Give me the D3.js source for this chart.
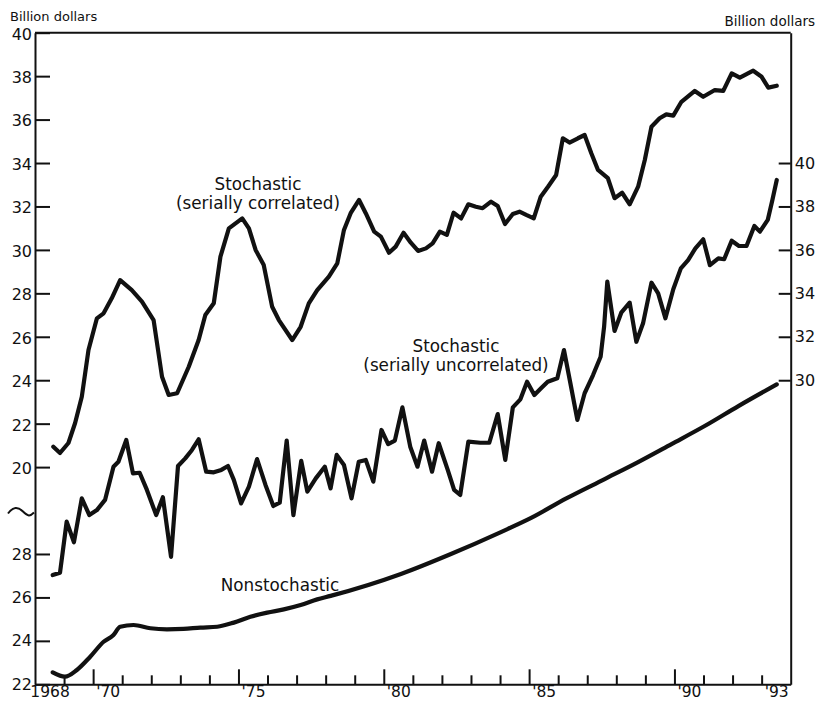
<!DOCTYPE html>
<html>
<head>
<meta charset="utf-8">
<script src="https://cdn.jsdelivr.net/npm/d3@7"></script>
<style>
  body { margin: 0; background: #fff; }
  svg text { font-family: "DejaVu Sans", sans-serif; fill: #111; }
</style>
</head>
<body>
<div id="chart"></div>
<script>
// stochastic, serially correlated (left axis, upper part)
var corrYears = [1968.63, 1968.86, 1969.15, 1969.38, 1969.61, 1969.84, 1970.13, 1970.36, 1970.64, 1970.93,
  1971.33, 1971.68, 1972.08, 1972.37, 1972.60, 1972.89, 1973.29, 1973.63, 1973.86, 1974.15,
  1974.38, 1974.67, 1975.13, 1975.36, 1975.59, 1975.87, 1976.16, 1976.39, 1976.85, 1977.14,
  1977.42, 1977.71, 1978.11, 1978.40, 1978.63, 1978.86, 1979.15, 1979.38, 1979.67, 1979.90,
  1980.18, 1980.41, 1980.68, 1980.93, 1981.18, 1981.45, 1981.68, 1981.93, 1982.17, 1982.40,
  1982.66, 1982.91, 1983.17, 1983.40, 1983.69, 1983.92, 1984.17, 1984.44, 1984.67, 1984.90,
  1985.16, 1985.40, 1985.65, 1985.93, 1986.16, 1986.39, 1986.68, 1986.91, 1987.14, 1987.37,
  1987.71, 1987.94, 1988.20, 1988.46, 1988.75, 1988.98, 1989.21, 1989.49, 1989.72, 1989.96,
  1990.24, 1990.70, 1990.99, 1991.39, 1991.68, 1991.97, 1992.25, 1992.71, 1993.00, 1993.23, 1993.52]
var corrValues = [20.94, 20.65, 21.11, 22.03, 23.24, 25.39, 26.85, 27.08, 27.77, 28.61,
  28.15, 27.62, 26.77, 24.16, 23.32, 23.40, 24.62, 25.85, 27.00, 27.54,
  29.69, 30.99, 31.45, 30.99, 30.00, 29.30, 27.38, 26.77, 25.85, 26.46,
  27.54, 28.15, 28.77, 29.38, 30.92, 31.69, 32.30, 31.69, 30.84, 30.61,
  29.87, 30.15, 30.79, 30.33, 29.95, 30.07, 30.30, 30.84, 30.69, 31.71,
  31.45, 32.10, 31.99, 31.92, 32.22, 32.02, 31.19, 31.65, 31.76, 31.61,
  31.45, 32.45, 32.91, 33.45, 35.14, 34.94, 35.14, 35.29, 34.45, 33.68,
  33.30, 32.38, 32.63, 32.10, 32.91, 34.14, 35.67, 36.06, 36.24, 36.18,
  36.82, 37.32, 37.05, 37.36, 37.32, 38.13, 37.93, 38.25, 37.97, 37.47, 37.56]

// stochastic, serially uncorrelated (right axis)
var uncorrYears = [1968.61, 1968.86, 1969.09, 1969.34, 1969.61, 1969.87, 1970.13, 1970.41, 1970.70, 1970.87,
  1971.14, 1971.37, 1971.60, 1971.85, 1972.17, 1972.40, 1972.68, 1972.92, 1973.17, 1973.40,
  1973.63, 1973.89, 1974.15, 1974.41, 1974.64, 1974.84, 1975.09, 1975.36, 1975.64, 1975.93,
  1976.20, 1976.42, 1976.66, 1976.89, 1977.16, 1977.37, 1977.66, 1977.97, 1978.17, 1978.38,
  1978.63, 1978.89, 1979.14, 1979.38, 1979.64, 1979.92, 1980.15, 1980.38, 1980.64, 1980.91,
  1981.16, 1981.39, 1981.66, 1981.89, 1982.20, 1982.42, 1982.63, 1982.91, 1983.32, 1983.63,
  1983.92, 1984.18, 1984.44, 1984.70, 1984.93, 1985.18, 1985.41, 1985.64, 1985.97, 1986.20,
  1986.42, 1986.66, 1986.91, 1987.20, 1987.46, 1987.58, 1987.69, 1987.94, 1988.17, 1988.46,
  1988.69, 1988.92, 1989.21, 1989.44, 1989.69, 1989.96, 1990.22, 1990.47, 1990.72, 1990.99,
  1991.22, 1991.51, 1991.71, 1991.97, 1992.22, 1992.48, 1992.75, 1992.94, 1993.21, 1993.37, 1993.52]
var uncorrValues = [21.03, 21.14, 23.49, 22.54, 24.56, 23.79, 24.02, 24.49, 26.02, 26.25,
  27.25, 25.71, 25.74, 24.95, 23.79, 24.61, 21.87, 26.05, 26.40, 26.79,
  27.28, 25.79, 25.76, 25.87, 26.05, 25.41, 24.33, 25.10, 26.37, 25.18,
  24.21, 24.36, 27.22, 23.79, 26.29, 24.87, 25.48, 26.02, 25.02, 26.56,
  26.10, 24.56, 26.25, 26.33, 25.33, 27.71, 27.06, 27.22, 28.75, 26.94,
  26.02, 27.22, 25.79, 27.10, 25.87, 24.95, 24.72, 27.17, 27.12, 27.12,
  28.44, 26.33, 28.75, 29.12, 29.93, 29.32, 29.63, 29.93, 30.09, 31.39,
  29.86, 28.17, 29.40, 30.24, 31.08, 32.46, 34.54, 32.27, 33.11, 33.57,
  31.77, 32.62, 34.49, 34.00, 32.85, 34.19, 35.15, 35.53, 36.07, 36.49,
  35.30, 35.61, 35.57, 36.42, 36.18, 36.18, 37.10, 36.84, 37.38, 38.30, 39.22]

// nonstochastic (left axis, lower part)
var nonYears = [1968.61, 1969.03, 1969.44, 1969.90, 1970.36, 1970.70, 1970.93, 1971.39, 1971.97, 1972.54,
  1973.11, 1973.69, 1974.27, 1974.84, 1975.41, 1975.99, 1976.56, 1977.14, 1977.71, 1978.17,
  1980.59, 1982.31, 1984.03, 1985.07, 1986.28, 1987.60, 1988.75, 1989.90, 1991.04, 1992.20, 1993.52]
var nonValues = [22.55, 22.35, 22.66, 23.27, 23.96, 24.27, 24.65, 24.73, 24.58, 24.53,
  24.55, 24.61, 24.65, 24.84, 25.11, 25.30, 25.45, 25.65, 25.91, 26.07,
  27.08, 28.00, 29.01, 29.66, 30.56, 31.45, 32.23, 33.06, 33.89, 34.81, 35.81]

var leftTicksUpper = [20, 22, 24, 26, 28, 30, 32, 34, 36, 38, 40]
var leftTicksLower = [22, 24, 26, 28]
var rightTicks = [30, 32, 34, 36, 38, 40]
var yearTicks = d3.range(1969, 1994)
var majorYears = [1970, 1975, 1980, 1985, 1990]
var yearLabels = [
  {year: 1968, label: "1968"}, {year: 1970, label: "'70"}, {year: 1975, label: "'75"},
  {year: 1980, label: "'80"}, {year: 1985, label: "'85"}, {year: 1990, label: "'90"},
  {year: 1993, label: "'93"}
]

var W = 817, H = 701
var plotL = 35, plotR = 790.7, plotT = 32.7, plotB = 684.3

var svg = d3.select("#chart").append("svg")
    .attr("width", W)
    .attr("height", H)

var x = d3.scaleLinear().domain([1968, 1994]).range([plotL, plotR])
// one pixel scale, three offset readings of it
var yLeft = d3.scaleLinear().domain([10, 40]).range([plotB, plotT])
var yLower = d3.scaleLinear().domain([22, 52]).range([plotB, plotT])
var yRight = d3.scaleLinear().domain([16, 46]).range([plotB, plotT])

function styleAxis(g, size) {
    g.selectAll("path.domain").attr("stroke", "#111").attr("stroke-width", 2)
    g.selectAll(".tick line").attr("stroke", "#111").attr("stroke-width", 2)
    g.selectAll(".tick text")
        .style("font-family", "DejaVu Sans, sans-serif")
        .style("font-size", size + "px")
        .attr("fill", "#111")
}

// left axis, upper part
svg.append("g")
    .attr("transform", `translate(${plotL},0)`)
    .call(d3.axisLeft(yLeft).tickValues(leftTicksUpper).tickSize(-15).tickSizeOuter(0).tickPadding(3))
    .call(g => styleAxis(g, 16))
    .call(g => g.selectAll(".tick text").attr("dy", "0.4em"))

// left axis, lower part
svg.append("g")
    .attr("transform", `translate(${plotL},0)`)
    .call(d3.axisLeft(yLower).tickValues(leftTicksLower).tickSize(-15).tickSizeOuter(0).tickPadding(3))
    .call(g => g.select(".domain").remove())
    .call(g => styleAxis(g, 16))

// right axis
svg.append("g")
    .attr("transform", `translate(${plotR},0)`)
    .call(d3.axisRight(yRight).tickValues(rightTicks).tickSize(-12).tickSizeOuter(0).tickPadding(4))
    .call(g => styleAxis(g, 16))

// bottom axis: yearly ticks inward, taller every five years
svg.append("g")
    .attr("transform", `translate(0,${plotB})`)
    .call(d3.axisBottom(x).tickValues(yearTicks).tickSize(-9).tickSizeOuter(0).tickFormat(""))
    .call(g => g.selectAll(".tick line").filter(d => majorYears.includes(d)).attr("y2", -15))
    .call(g => styleAxis(g, 16))

// year labels sit in the middle of each year
svg.append("g")
    .attr("transform", `translate(0,${plotB})`)
    .call(d3.axisBottom(x).tickValues(yearLabels.map(d => d.year + 0.5))
        .tickFormat((d, i) => yearLabels[i].label).tickSize(0).tickPadding(2))
    .call(g => g.select(".domain").remove())
    .call(g => styleAxis(g, 15.5))

// top frame line
svg.append("line")
    .attr("x1", x(1968)).attr("x2", x(1994))
    .attr("y1", yLeft(40)).attr("y2", yLeft(40))
    .attr("stroke", "#111").attr("stroke-width", 2)

// axis break mark
var yb = (yLeft(20) + yLower(28)) / 2 + 2
svg.append("path")
    .attr("d", `M8,${yb + 1} C13,${yb - 6} 18,${yb - 6} 23,${yb - 1} S30,${yb + 4} 34,${yb}`)
    .attr("fill", "none").attr("stroke", "#111").attr("stroke-width", 2)

// unit labels
svg.append("text").attr("x", 10).attr("y", 21).style("font-size", "13px").text("Billion dollars")
svg.append("text").attr("x", 815).attr("y", 26).attr("text-anchor", "end")
    .style("font-size", "13.5px").text("Billion dollars")

// series
function drawSeries(years, values, yScale, curve) {
    var pts = years.map((d, i) => [d, values[i]])
    var line = d3.line()
        .x(d => x(d[0]))
        .y(d => yScale(d[1]))
        .curve(curve)
    svg.append("path")
        .datum(pts)
        .attr("d", line)
        .attr("fill", "none")
        .attr("stroke", "#111")
        .attr("stroke-width", 4.2)
        .attr("stroke-linejoin", "round")
        .attr("stroke-linecap", "round")
}
drawSeries(corrYears, corrValues, yLeft, d3.curveLinear)
drawSeries(uncorrYears, uncorrValues, yRight, d3.curveLinear)
drawSeries(nonYears, nonValues, yLower, d3.curveMonotoneX)

// series labels
function label(cx, lines, y0) {
    lines.forEach((t, i) => {
        svg.append("text")
            .attr("x", cx).attr("y", y0 + i * 18.5)
            .attr("text-anchor", "middle")
            .style("font-size", "16.8px")
            .text(t)
    })
}
label(258, ["Stochastic", "(serially correlated)"], 190)
label(456, ["Stochastic", "(serially uncorrelated)"], 352)
label(280, ["Nonstochastic"], 591)
</script>
</body>
</html>
